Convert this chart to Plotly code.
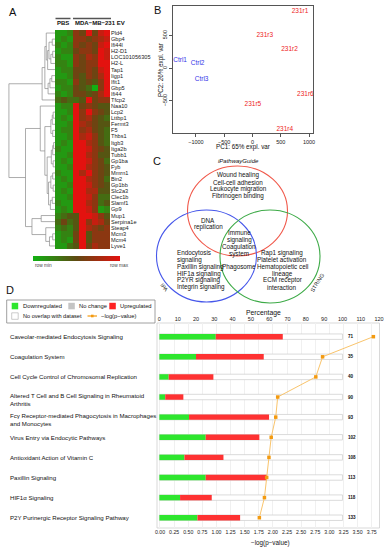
import plotly.graph_objects as go

W, H = 388, 550
def px(x): return x / W
def py(y): return 1 - y / H

FONT = "Liberation Sans, Arial, sans-serif"

# ---------------- Panel A data ----------------
genes = ["Pld4","Gbp4","Ifi44l","H2-D1","LOC101056305","H2-L","Tap1","Iigp1","Ifit1","Gbp5",
         "Ifi44","Tfcp2","Naa10","Lcp2","Lttbp1","Fermt3","F5","Thbs1","Itgb3","Itga2b",
         "Tubb1","Gp1ba","Fyb","Mmrn1","Bin2","Gp1bb","Slc2a3","Clec1b","Slamf1","Gp9",
         "Mup1","Serpina1e","Steap4","Mcm3","Mcm4","Lyve1"]
samples = ["PBS1","PBS2","PBS3","EV1","EV2","EV3","EV4","EV5","EV6"]
# relative expression level per gene, 0 = row min (green) .. 9 = row max (red)
expr_rows = [
    "112659589","121665678","212656589","122566598","211657698","221656699",
    "122556589","112546579","221645469","122543069","212554579","343349566",
    "122956544","112969654","121967543","112976544","122967543","112978643",
    "121997643","211998654","112997644","121998653","112997654","211979654",
    "121997653","112998654","121997744","112998633","211997634","121998612",
    "234499864","353496875","232497656","122594666","121594666","113495766",
]
# dendrogram: [merge height, left, right]
tree = [10.0,
        [2.8,
         [2.2,
          [1.9, 0, [1.6, [1.3, [0.6, 1, 2], [0.9, [0.5, 3, 4], 5]], 6]],
          [1.5, [1.1, [0.7, 7, 8], 9], 10]],
         11],
        [6.4,
         [3.2, 12,
          [2.2,
           [0.9, [0.6, [0.4, 13, 14], 15], [0.5, 16, 17]],
           [1.7,
            [0.8, [0.5, [0.3, 18, 19], 20], [0.4, 21, 22]],
            [1.4, [0.9, [0.5, 23, 24], [0.4, 25, 26]], [1.0, [0.6, 27, 28], 29]]]]],
         [5.0, [3.0, 30, 31], [2.0, 32, [1.2, [0.5, 33, 34], 35]]]]]
colorscale = [[0, "#12b012"], [0.5, "#5f4a12"], [1, "#e3120f"]]
colorbar_steps = [i / 59 for i in range(60)]

# ---------------- Panel B data ----------------
pca_labels = ["Ctrl1","Ctrl2","Ctrl3","231r1","231r2","231r3","231r4","231r5","231r6"]
pc1 = [-1279, -970, -899, 841, 655, 217, 571, 7, 935]
pc2 = [119, 76, -164, 866, 280, 499, -933, -550, -398]
pca_group = ["ctrl"]*3 + ["231"]*6

# ---------------- Panel D data ----------------
pathways = [
    "Caveolar-mediated Endocytosis Signaling",
    "Coagulation System",
    "Cell Cycle Control of Chromosomal Replication",
    "Altered T Cell and B Cell Signaling in Rheumatoid<br>Arthritis",
    "Fcγ Receptor-mediated Phagocytosis in Macrophages<br>and Monocytes",
    "Virus Entry via Endocytic Pathways",
    "Antioxidant Action of Vitamin C",
    "Paxillin Signaling",
    "HIF1α Signaling",
    "P2Y Purinergic Receptor Signaling Pathway",
]
down_pct = [30.8, 20.0, 5.1, 3.2, 16.2, 25.3, 13.7, 25.3, 11.3, 20.8]
up_pct = [36.6, 37.0, 24.4, 9.9, 43.7, 29.3, 21.3, 33.4, 17.3, 23.3]
totals = [71, 35, 40, 90, 93, 102, 108, 113, 118, 133]
neglogp = [3.78, 2.88, 2.76, 2.085, 2.05, 1.97, 1.93, 1.89, 1.85, 1.76]
pct_ticks = list(range(0, 130, 10))
logp_ticks = [i * 0.25 for i in range(16)]

fig = go.Figure()

# ---- heatmap ----
z = [[int(c) / 9 for c in r] for r in expr_rows]
fig.add_trace(go.Heatmap(
    z=z, x=list(range(len(samples))), y=list(range(len(genes))),
    colorscale=colorscale, zmin=0, zmax=1, xaxis="x", yaxis="y", hoverinfo="skip",
    showscale=False))
# colour key
fig.add_trace(go.Heatmap(
    z=[colorbar_steps], x=list(range(len(colorbar_steps))), y=[0],
    colorscale=colorscale, zmin=0, zmax=1, xaxis="x6", yaxis="y6", hoverinfo="skip",
    showscale=False))

# ---- dendrogram ----
segs_x, segs_y = [], []
def build(node):
    if isinstance(node, int):
        return float(node), 0.0
    h, l, r = node
    yl, hl = build(l)
    yr, hr = build(r)
    segs_x.extend([hl, h, h, hr, None])
    segs_y.extend([yl, yl, yr, yr, None])
    return (yl + yr) / 2, h
build(tree)
fig.add_trace(go.Scatter(x=segs_x, y=segs_y, mode="lines", xaxis="x2", yaxis="y2",
                         line=dict(color="#8a8a8a", width=0.7), hoverinfo="skip",
                         showlegend=False))

# ---- PCA ----
for grp, col in [("ctrl", "#3535e8"), ("231", "#ee2424")]:
    idx = [i for i, g in enumerate(pca_group) if g == grp]
    fig.add_trace(go.Scatter(
        x=[pc1[i] for i in idx], y=[pc2[i] for i in idx],
        text=[pca_labels[i] for i in idx], mode="text", xaxis="x3", yaxis="y3",
        textfont=dict(size=6.5, color=col, family=FONT), showlegend=False))

# ---- panel D ----
yidx = list(range(len(pathways)))
fig.add_trace(go.Bar(y=yidx, x=[100] * len(yidx), base=0, orientation="h", width=0.27,
                     marker=dict(color="white", line=dict(color="#d2d2d2", width=0.8)),
                     xaxis="x4", yaxis="y4", showlegend=False, hoverinfo="skip"))
fig.add_trace(go.Bar(y=yidx, x=down_pct, base=0, orientation="h", width=0.27,
                     marker=dict(color="#2ee62e", line=dict(width=0)),
                     xaxis="x4", yaxis="y4", showlegend=False))
fig.add_trace(go.Bar(y=yidx, x=up_pct, base=down_pct, orientation="h", width=0.27,
                     marker=dict(color="#fe3232", line=dict(width=0)),
                     xaxis="x4", yaxis="y4", showlegend=False))
fig.add_trace(go.Scatter(x=neglogp, y=yidx, mode="lines+markers", xaxis="x5", yaxis="y4",
                         line=dict(color="#f9c46c", width=1),
                         marker=dict(symbol="square", size=3.5, color="#f39a10"),
                         showlegend=False))

ann = []
shapes = []
def txt(x, y, s, size=6.3, anchor="center", color="#111", **kw):
    d = dict(x=px(x), y=py(y), xref="paper", yref="paper", text=s, showarrow=False,
             xanchor=anchor, yanchor="middle", font=dict(size=size, color=color, family=FONT))
    d.update(kw)
    ann.append(d)

# panel letters
txt(13, 12, "A", size=11)
txt(157, 10, "B", size=11)
txt(157, 161, "C", size=11)
txt(10, 290, "D", size=11)

# heatmap header
shapes.append(dict(type="line", xref="paper", yref="paper", x0=px(55.5), x1=px(70.5),
                   y0=py(18.5), y1=py(18.5), line=dict(color="#555", width=1.5)))
shapes.append(dict(type="line", xref="paper", yref="paper", x0=px(73), x1=px(111),
                   y0=py(18.5), y1=py(18.5), line=dict(color="#555", width=1.5)))
txt(62.5, 23, "<b>PBS</b>", size=6)
txt(73, 23, "<b>MDA\u2212MB\u2212231 EV</b>", size=6, anchor="left")
txt(33, 265, "row min", size=4.8, anchor="left", color="#444")
txt(119, 265, "row max", size=4.8, color="#444")

# PCA axis titles
txt(243, 146.5, "PC1: 65% expl. var", size=6.3)
txt(161, 70, "PC2: 26% expl. var", size=6.3, textangle=-90)

# Venn diagram
venn = [("#f0584a", 237.5, 211, 50, 45), ("#4657ea", 206.5, 256, 50, 46),
        ("#3daa47", 270, 256.5, 50, 46.5)]
for col, cx, cy, rx, ry in venn:
    shapes.append(dict(type="circle", xref="paper", yref="paper",
                       x0=px(cx - rx), x1=px(cx + rx), y0=py(cy + ry), y1=py(cy - ry),
                       line=dict(color=col, width=1.1)))
txt(238, 161, "<i>iPathwayGuide</i>", size=6)
for i, s in enumerate(["Wound healing", "Cell-cell adhesion", "Leukocyte migration",
                       "Fibrinogen binding"]):
    txt(238, 175 + 7 * i, s)
txt(208, 220, "DNA")
txt(208, 227, "replication")
for i, s in enumerate(["Immune", "signaling", "Coagulation", "system"]):
    txt(239, 233 + 7 * i, s)
txt(239, 267, "Phagosome")
for i, s in enumerate(["Endocytosis", "signaling", "Paxillin signaling", "HIF1a signaling",
                       "P2YR signaling", "Integrin signaling"]):
    txt(175, 253 + 6.85 * i, s, anchor="left")
for i, s in enumerate(["Rap1 signaling", "Platelet activation", "Hematopoietic cell",
                       "lineage", "ECM receptor", "interaction"]):
    txt(282, 253 + 6.85 * i, s)
txt(164, 287, "IPA", size=5.5, textangle=50)
txt(317, 283, "STRING", size=5.5, textangle=-58)

# panel D legend
shapes.append(dict(type="rect", xref="paper", yref="paper", x0=px(6.7), x1=px(155),
                   y0=py(323), y1=py(300), line=dict(color="#888", width=0.8)))
for x0, col in [(11.7, "#2ee62e"), (68.3, "#c4c4c4"), (109.3, "#fe2222")]:
    shapes.append(dict(type="rect", xref="paper", yref="paper", x0=px(x0), x1=px(x0 + 6.5),
                       y0=py(309.3), y1=py(302.8), fillcolor=col, line=dict(width=0)))
shapes.append(dict(type="rect", xref="paper", yref="paper", x0=px(11.7), x1=px(18.2),
                   y0=py(319.3), y1=py(312.8), fillcolor="white",
                   line=dict(color="#aaa", width=0.6)))
shapes.append(dict(type="line", xref="paper", yref="paper", x0=px(87.5), x1=px(97),
                   y0=py(316), y1=py(316), line=dict(color="#f39a10", width=1.2)))
shapes.append(dict(type="rect", xref="paper", yref="paper", x0=px(91), x1=px(93.6),
                   y0=py(317.3), y1=py(314.7), fillcolor="#f39a10", line=dict(width=0)))
txt(20.7, 306, "Downregulated", size=5.8, anchor="left")
txt(76.7, 306, "No change", size=5.8, anchor="left")
txt(118.3, 306, "Upregulated", size=5.8, anchor="left")
txt(20.7, 316, "No overlap with dataset", size=5.6, anchor="left")
txt(99.5, 316, "\u2212log(p\u2212value)", size=5.8, anchor="left")

# D axis titles
txt(263, 313, "Percentage", size=6.8)
txt(270, 542.5, "\u2212log(p\u2212value)", size=6.3)

# D plot frame
shapes.append(dict(type="rect", xref="paper", yref="paper", x0=px(157), x1=px(379.5),
                   y0=py(528), y1=py(323), line=dict(color="#cfcfcf", width=0.8),
                   layer="below"))

for i, name in enumerate(pathways):
    ann.append(dict(x=px(8), y=i, xref="paper", yref="y4", text=name, showarrow=False,
                    xanchor="left", yanchor="middle", align="left",
                    yshift=-2.5 if "<br>" in name else 0,
                    font=dict(size=6.1, color="#111", family=FONT)))
    ann.append(dict(x=101.8, y=i, xref="x4", yref="y4", text="<b>%d</b>" % totals[i],
                    showarrow=False, xanchor="left", yanchor="middle",
                    font=dict(size=4.6, color="#111", family=FONT)))

tickfont = dict(size=5.5, color="#222", family=FONT)
fig.update_layout(
    width=W, height=H, margin=dict(l=0, r=0, t=0, b=0, autoexpand=False),
    paper_bgcolor="white", plot_bgcolor="rgba(0,0,0,0)", showlegend=False,
    barmode="overlay", font=dict(family=FONT),
    xaxis=dict(domain=[px(55), px(110)], range=[-0.5, 8.5], visible=False, anchor="y"),
    yaxis=dict(domain=[py(249), py(30)], range=[35.5, -0.5], side="right", anchor="x",
               tickvals=list(range(len(genes))), ticktext=genes, ticks="",
               showgrid=False, zeroline=False, showline=False,
               tickfont=dict(size=5.6, color="#222", family=FONT)),
    xaxis2=dict(domain=[px(8), px(55)], range=[10.2, 0], visible=False, anchor="y2"),
    yaxis2=dict(domain=[py(249), py(30)], range=[35.5, -0.5], visible=False, anchor="x2"),
    xaxis3=dict(domain=[px(172.7), px(313)], range=[-1410, 1070], anchor="y3",
                tickvals=[-1000, -500, 0, 500, 1000], showline=True, mirror=True,
                linecolor="#555", linewidth=0.8, ticks="outside", ticklen=3,
                tickwidth=0.6, tickcolor="#555", showgrid=False, zeroline=False,
                tickfont=tickfont),
    yaxis3=dict(domain=[py(133), py(6)], range=[-990, 950], anchor="x3",
                tickvals=[-500, 0, 500], tickangle=-90, showline=True, mirror=True,
                linecolor="#555", linewidth=0.8, ticks="outside", ticklen=3,
                tickwidth=0.6, tickcolor="#555", showgrid=False, zeroline=False,
                tickfont=tickfont),
    xaxis4=dict(domain=[px(157), px(380)], range=[-1.3, 120.5], anchor="y4", side="top",
                tickvals=pct_ticks, showgrid=False, zeroline=False, showline=False,
                ticks="", tickfont=tickfont),
    xaxis5=dict(range=[-0.053, 3.897], overlaying="x4", anchor="y4", side="bottom",
                tickvals=logp_ticks, ticktext=["%.2f" % v for v in logp_ticks],
                showgrid=True, gridcolor="#f0f0f0", gridwidth=0.6, zeroline=False,
                showline=False, ticks="", tickfont=dict(size=5.2, color="#222", family=FONT)),
    yaxis4=dict(domain=[py(528), py(323)], range=[9.51, -0.68], anchor="x4",
                visible=False),
    xaxis6=dict(domain=[px(33), px(120)], range=[-0.5, len(colorbar_steps) - 0.5],
                visible=False, anchor="y6"),
    yaxis6=dict(domain=[py(261), py(256)], range=[-0.5, 0.5], visible=False, anchor="x6"),
    annotations=ann, shapes=shapes,
)

fig.write_html("out.html", config={"displayModeBar": False},
               post_script="document.body.style.margin='0';document.body.style.overflow='hidden';")
